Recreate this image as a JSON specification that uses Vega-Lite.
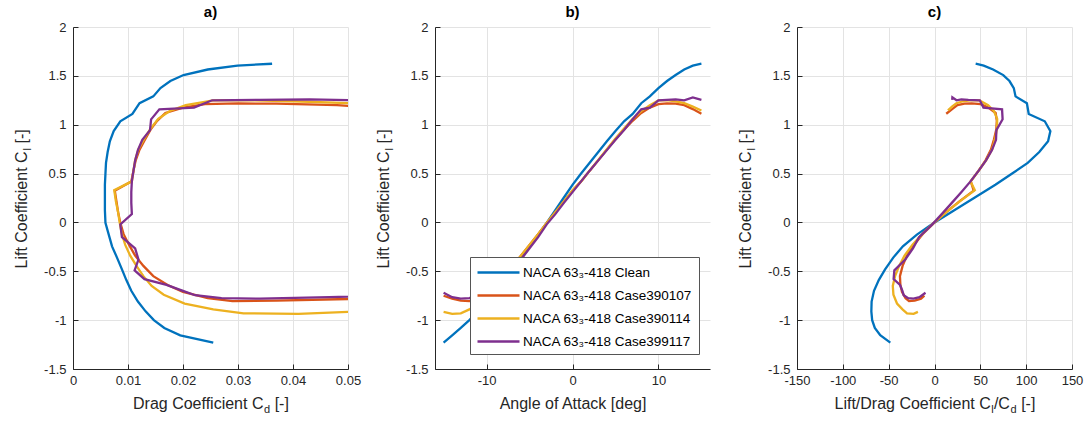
{
  "$schema": "https://vega.github.io/schema/vega-lite/v6.json",
  "background": "white",
  "padding": {"left": 13, "top": 5, "right": 5, "bottom": 5},
  "bounds": "flush",
  "config": {
    "font": "Liberation Sans",
    "view": {"stroke": null},
    "locale": {"number": {"decimal": ".", "thousands": ",", "grouping": [3], "currency": ["$", ""], "minus": "-"}},
    "axis": {
      "domainColor": "#262626", "domainWidth": 1, "tickColor": "#262626", "tickSize": -5,
      "labelFontSize": 13, "labelColor": "#262626", "labelFont": "Liberation Sans",
      "titleColor": "#262626", "titleFont": "Liberation Sans", "titleFontSize": 16, "titleFontWeight": "normal",
      "titleAlign": "left", "titleBaseline": "alphabetic",
      "gridColor": "#e3e3e3", "gridWidth": 1, "labelFlush": false, "labelOverlap": false
    },
    "axisX": {"labelPadding": 10},
    "axisY": {"labelPadding": 12},
    "title": {"fontSize": 15, "fontWeight": "bold", "color": "#000000", "offset": 0, "dy": 3, "font": "Liberation Sans"}
  },
  "datasets": {
    "polar": [
      {"c": "NACA 63₃-418 Clean", "a": -15, "cl": -1.23, "cd": 0.0255, "ld": -48.2},
      {"c": "NACA 63₃-418 Clean", "a": -14, "cl": -1.155, "cd": 0.0195, "ld": -59.2},
      {"c": "NACA 63₃-418 Clean", "a": -13, "cl": -1.08, "cd": 0.0166, "ld": -65.1},
      {"c": "NACA 63₃-418 Clean", "a": -12, "cl": -1.0, "cd": 0.0147, "ld": -68.0},
      {"c": "NACA 63₃-418 Clean", "a": -11, "cl": -0.91, "cd": 0.0132, "ld": -68.9},
      {"c": "NACA 63₃-418 Clean", "a": -10, "cl": -0.81, "cd": 0.0118, "ld": -68.6},
      {"c": "NACA 63₃-418 Clean", "a": -9, "cl": -0.7, "cd": 0.0106, "ld": -66.0},
      {"c": "NACA 63₃-418 Clean", "a": -8, "cl": -0.59, "cd": 0.0097, "ld": -60.8},
      {"c": "NACA 63₃-418 Clean", "a": -7, "cl": -0.48, "cd": 0.0089, "ld": -53.9},
      {"c": "NACA 63₃-418 Clean", "a": -6, "cl": -0.36, "cd": 0.008, "ld": -45.0},
      {"c": "NACA 63₃-418 Clean", "a": -5, "cl": -0.245, "cd": 0.0071, "ld": -34.5},
      {"c": "NACA 63₃-418 Clean", "a": -4, "cl": -0.125, "cd": 0.0065, "ld": -19.2},
      {"c": "NACA 63₃-418 Clean", "a": -3, "cl": -0.005, "cd": 0.0059, "ld": -0.8},
      {"c": "NACA 63₃-418 Clean", "a": -2, "cl": 0.125, "cd": 0.0058, "ld": 21.6},
      {"c": "NACA 63₃-418 Clean", "a": -1, "cl": 0.255, "cd": 0.0058, "ld": 44.0},
      {"c": "NACA 63₃-418 Clean", "a": 0, "cl": 0.385, "cd": 0.0058, "ld": 66.4},
      {"c": "NACA 63₃-418 Clean", "a": 1, "cl": 0.5, "cd": 0.0059, "ld": 84.7},
      {"c": "NACA 63₃-418 Clean", "a": 2, "cl": 0.61, "cd": 0.006, "ld": 101.7},
      {"c": "NACA 63₃-418 Clean", "a": 3, "cl": 0.72, "cd": 0.0063, "ld": 114.3},
      {"c": "NACA 63₃-418 Clean", "a": 4, "cl": 0.83, "cd": 0.0067, "ld": 123.9},
      {"c": "NACA 63₃-418 Clean", "a": 5, "cl": 0.935, "cd": 0.0074, "ld": 126.4},
      {"c": "NACA 63₃-418 Clean", "a": 6, "cl": 1.035, "cd": 0.0086, "ld": 120.3},
      {"c": "NACA 63₃-418 Clean", "a": 7, "cl": 1.11, "cd": 0.0108, "ld": 102.8},
      {"c": "NACA 63₃-418 Clean", "a": 8, "cl": 1.22, "cd": 0.0121, "ld": 100.8},
      {"c": "NACA 63₃-418 Clean", "a": 9, "cl": 1.29, "cd": 0.0146, "ld": 88.4},
      {"c": "NACA 63₃-418 Clean", "a": 10, "cl": 1.375, "cd": 0.0159, "ld": 86.5},
      {"c": "NACA 63₃-418 Clean", "a": 11, "cl": 1.447, "cd": 0.0177, "ld": 81.8},
      {"c": "NACA 63₃-418 Clean", "a": 12, "cl": 1.508, "cd": 0.0201, "ld": 75.0},
      {"c": "NACA 63₃-418 Clean", "a": 13, "cl": 1.565, "cd": 0.0245, "ld": 63.9},
      {"c": "NACA 63₃-418 Clean", "a": 14, "cl": 1.605, "cd": 0.0299, "ld": 53.7},
      {"c": "NACA 63₃-418 Clean", "a": 15, "cl": 1.624, "cd": 0.0362, "ld": 44.9},

      {"c": "NACA 63₃-418 Case390107", "a": -15, "cl": -0.75, "cd": 0.068, "ld": -11.0},
      {"c": "NACA 63₃-418 Case390107", "a": -14, "cl": -0.78, "cd": 0.053, "ld": -14.7},
      {"c": "NACA 63₃-418 Case390107", "a": -13, "cl": -0.8, "cd": 0.037, "ld": -21.6},
      {"c": "NACA 63₃-418 Case390107", "a": -12, "cl": -0.805, "cd": 0.029, "ld": -27.8},
      {"c": "NACA 63₃-418 Case390107", "a": -11, "cl": -0.775, "cd": 0.0245, "ld": -31.6},
      {"c": "NACA 63₃-418 Case390107", "a": -10, "cl": -0.71, "cd": 0.02, "ld": -35.5},
      {"c": "NACA 63₃-418 Case390107", "a": -9, "cl": -0.64, "cd": 0.0172, "ld": -37.2},
      {"c": "NACA 63₃-418 Case390107", "a": -8, "cl": -0.55, "cd": 0.0146, "ld": -37.7},
      {"c": "NACA 63₃-418 Case390107", "a": -7, "cl": -0.445, "cd": 0.0128, "ld": -34.8},
      {"c": "NACA 63₃-418 Case390107", "a": -6, "cl": -0.34, "cd": 0.0113, "ld": -30.1},
      {"c": "NACA 63₃-418 Case390107", "a": -5, "cl": -0.23, "cd": 0.0102, "ld": -22.5},
      {"c": "NACA 63₃-418 Case390107", "a": -4, "cl": -0.12, "cd": 0.0092, "ld": -13.0},
      {"c": "NACA 63₃-418 Case390107", "a": -3, "cl": -0.005, "cd": 0.0086, "ld": -0.6},
      {"c": "NACA 63₃-418 Case390107", "a": -2, "cl": 0.105, "cd": 0.0082, "ld": 12.8},
      {"c": "NACA 63₃-418 Case390107", "a": -1, "cl": 0.215, "cd": 0.0079, "ld": 27.2},
      {"c": "NACA 63₃-418 Case390107", "a": 0, "cl": 0.325, "cd": 0.0076, "ld": 42.8},
      {"c": "NACA 63₃-418 Case390107", "a": 1, "cl": 0.42, "cd": 0.0106, "ld": 39.6},
      {"c": "NACA 63₃-418 Case390107", "a": 2, "cl": 0.53, "cd": 0.011, "ld": 48.2},
      {"c": "NACA 63₃-418 Case390107", "a": 3, "cl": 0.635, "cd": 0.0114, "ld": 55.7},
      {"c": "NACA 63₃-418 Case390107", "a": 4, "cl": 0.745, "cd": 0.0121, "ld": 61.6},
      {"c": "NACA 63₃-418 Case390107", "a": 5, "cl": 0.85, "cd": 0.0131, "ld": 64.9},
      {"c": "NACA 63₃-418 Case390107", "a": 6, "cl": 0.95, "cd": 0.0141, "ld": 67.4},
      {"c": "NACA 63₃-418 Case390107", "a": 7, "cl": 1.04, "cd": 0.0153, "ld": 68.0},
      {"c": "NACA 63₃-418 Case390107", "a": 8, "cl": 1.12, "cd": 0.0168, "ld": 66.7},
      {"c": "NACA 63₃-418 Case390107", "a": 9, "cl": 1.175, "cd": 0.02, "ld": 58.8},
      {"c": "NACA 63₃-418 Case390107", "a": 10, "cl": 1.21, "cd": 0.024, "ld": 50.4},
      {"c": "NACA 63₃-418 Case390107", "a": 11, "cl": 1.218, "cd": 0.03, "ld": 40.6},
      {"c": "NACA 63₃-418 Case390107", "a": 12, "cl": 1.215, "cd": 0.037, "ld": 32.8},
      {"c": "NACA 63₃-418 Case390107", "a": 13, "cl": 1.2, "cd": 0.048, "ld": 25.0},
      {"c": "NACA 63₃-418 Case390107", "a": 14, "cl": 1.16, "cd": 0.06, "ld": 19.3},
      {"c": "NACA 63₃-418 Case390107", "a": 15, "cl": 1.112, "cd": 0.087, "ld": 12.8},

      {"c": "NACA 63₃-418 Case390114", "a": -15, "cl": -0.915, "cd": 0.0505, "ld": -18.1},
      {"c": "NACA 63₃-418 Case390114", "a": -14, "cl": -0.935, "cd": 0.041, "ld": -22.8},
      {"c": "NACA 63₃-418 Case390114", "a": -13, "cl": -0.93, "cd": 0.031, "ld": -30.0},
      {"c": "NACA 63₃-418 Case390114", "a": -12, "cl": -0.89, "cd": 0.0255, "ld": -34.9},
      {"c": "NACA 63₃-418 Case390114", "a": -11, "cl": -0.83, "cd": 0.0203, "ld": -40.9},
      {"c": "NACA 63₃-418 Case390114", "a": -10, "cl": -0.74, "cd": 0.0165, "ld": -44.8},
      {"c": "NACA 63₃-418 Case390114", "a": -9, "cl": -0.65, "cd": 0.0143, "ld": -45.5},
      {"c": "NACA 63₃-418 Case390114", "a": -8, "cl": -0.55, "cd": 0.0128, "ld": -43.0},
      {"c": "NACA 63₃-418 Case390114", "a": -7, "cl": -0.45, "cd": 0.0116, "ld": -38.8},
      {"c": "NACA 63₃-418 Case390114", "a": -6, "cl": -0.34, "cd": 0.0104, "ld": -32.7},
      {"c": "NACA 63₃-418 Case390114", "a": -5, "cl": -0.23, "cd": 0.0095, "ld": -24.2},
      {"c": "NACA 63₃-418 Case390114", "a": -4, "cl": -0.12, "cd": 0.0089, "ld": -13.5},
      {"c": "NACA 63₃-418 Case390114", "a": -3, "cl": -0.005, "cd": 0.0085, "ld": -0.6},
      {"c": "NACA 63₃-418 Case390114", "a": -2, "cl": 0.105, "cd": 0.0082, "ld": 12.8},
      {"c": "NACA 63₃-418 Case390114", "a": -1, "cl": 0.215, "cd": 0.0078, "ld": 27.6},
      {"c": "NACA 63₃-418 Case390114", "a": 0, "cl": 0.33, "cd": 0.0075, "ld": 44.0},
      {"c": "NACA 63₃-418 Case390114", "a": 1, "cl": 0.42, "cd": 0.0107, "ld": 39.3},
      {"c": "NACA 63₃-418 Case390114", "a": 2, "cl": 0.53, "cd": 0.011, "ld": 48.2},
      {"c": "NACA 63₃-418 Case390114", "a": 3, "cl": 0.64, "cd": 0.0113, "ld": 56.6},
      {"c": "NACA 63₃-418 Case390114", "a": 4, "cl": 0.75, "cd": 0.0119, "ld": 63.0},
      {"c": "NACA 63₃-418 Case390114", "a": 5, "cl": 0.86, "cd": 0.013, "ld": 66.2},
      {"c": "NACA 63₃-418 Case390114", "a": 6, "cl": 0.96, "cd": 0.0141, "ld": 68.1},
      {"c": "NACA 63₃-418 Case390114", "a": 7, "cl": 1.06, "cd": 0.0155, "ld": 68.4},
      {"c": "NACA 63₃-418 Case390114", "a": 8, "cl": 1.14, "cd": 0.0176, "ld": 64.8},
      {"c": "NACA 63₃-418 Case390114", "a": 9, "cl": 1.2, "cd": 0.0205, "ld": 58.5},
      {"c": "NACA 63₃-418 Case390114", "a": 10, "cl": 1.25, "cd": 0.0255, "ld": 49.0},
      {"c": "NACA 63₃-418 Case390114", "a": 11, "cl": 1.252, "cd": 0.031, "ld": 40.4},
      {"c": "NACA 63₃-418 Case390114", "a": 12, "cl": 1.24, "cd": 0.04, "ld": 31.0},
      {"c": "NACA 63₃-418 Case390114", "a": 13, "cl": 1.22, "cd": 0.051, "ld": 23.9},
      {"c": "NACA 63₃-418 Case390114", "a": 14, "cl": 1.185, "cd": 0.062, "ld": 19.1},
      {"c": "NACA 63₃-418 Case390114", "a": 15, "cl": 1.146, "cd": 0.078, "ld": 14.7},

      {"c": "NACA 63₃-418 Case399117", "a": -15, "cl": -0.72, "cd": 0.0735, "ld": -9.8},
      {"c": "NACA 63₃-418 Case399117", "a": -14, "cl": -0.765, "cd": 0.0466, "ld": -16.4},
      {"c": "NACA 63₃-418 Case399117", "a": -13, "cl": -0.78, "cd": 0.034, "ld": -22.9},
      {"c": "NACA 63₃-418 Case399117", "a": -12, "cl": -0.775, "cd": 0.027, "ld": -28.7},
      {"c": "NACA 63₃-418 Case399117", "a": -11, "cl": -0.745, "cd": 0.0222, "ld": -33.6},
      {"c": "NACA 63₃-418 Case399117", "a": -10, "cl": -0.7, "cd": 0.02, "ld": -35.0},
      {"c": "NACA 63₃-418 Case399117", "a": -9, "cl": -0.64, "cd": 0.017, "ld": -37.6},
      {"c": "NACA 63₃-418 Case399117", "a": -8, "cl": -0.58, "cd": 0.013, "ld": -44.6},
      {"c": "NACA 63₃-418 Case399117", "a": -7, "cl": -0.49, "cd": 0.0112, "ld": -43.8},
      {"c": "NACA 63₃-418 Case399117", "a": -6, "cl": -0.38, "cd": 0.0119, "ld": -31.9},
      {"c": "NACA 63₃-418 Case399117", "a": -5, "cl": -0.265, "cd": 0.0113, "ld": -23.5},
      {"c": "NACA 63₃-418 Case399117", "a": -4, "cl": -0.15, "cd": 0.0089, "ld": -16.9},
      {"c": "NACA 63₃-418 Case399117", "a": -3, "cl": -0.02, "cd": 0.0086, "ld": -2.3},
      {"c": "NACA 63₃-418 Case399117", "a": -2, "cl": 0.085, "cd": 0.0107, "ld": 7.9},
      {"c": "NACA 63₃-418 Case399117", "a": -1, "cl": 0.2, "cd": 0.0106, "ld": 18.9},
      {"c": "NACA 63₃-418 Case399117", "a": 0, "cl": 0.31, "cd": 0.0106, "ld": 29.2},
      {"c": "NACA 63₃-418 Case399117", "a": 1, "cl": 0.42, "cd": 0.0107, "ld": 39.3},
      {"c": "NACA 63₃-418 Case399117", "a": 2, "cl": 0.53, "cd": 0.011, "ld": 48.2},
      {"c": "NACA 63₃-418 Case399117", "a": 3, "cl": 0.635, "cd": 0.0113, "ld": 56.2},
      {"c": "NACA 63₃-418 Case399117", "a": 4, "cl": 0.74, "cd": 0.0118, "ld": 62.7},
      {"c": "NACA 63₃-418 Case399117", "a": 5, "cl": 0.845, "cd": 0.0126, "ld": 67.1},
      {"c": "NACA 63₃-418 Case399117", "a": 6, "cl": 0.945, "cd": 0.014, "ld": 67.5},
      {"c": "NACA 63₃-418 Case399117", "a": 7, "cl": 1.055, "cd": 0.0142, "ld": 74.3},
      {"c": "NACA 63₃-418 Case399117", "a": 8, "cl": 1.157, "cd": 0.0157, "ld": 73.7},
      {"c": "NACA 63₃-418 Case399117", "a": 9, "cl": 1.175, "cd": 0.022, "ld": 53.4},
      {"c": "NACA 63₃-418 Case399117", "a": 10, "cl": 1.25, "cd": 0.0253, "ld": 49.4},
      {"c": "NACA 63₃-418 Case399117", "a": 11, "cl": 1.255, "cd": 0.034, "ld": 36.9},
      {"c": "NACA 63₃-418 Case399117", "a": 12, "cl": 1.26, "cd": 0.043, "ld": 29.3},
      {"c": "NACA 63₃-418 Case399117", "a": 13, "cl": 1.25, "cd": 0.052, "ld": 24.0},
      {"c": "NACA 63₃-418 Case399117", "a": 14, "cl": 1.28, "cd": 0.0656, "ld": 19.5},
      {"c": "NACA 63₃-418 Case399117", "a": 15, "cl": 1.255, "cd": 0.065, "ld": 19.3}
    ]
  },
  "spacing": 87,
  "resolve": {"scale": {"color": "shared"}, "legend": {"color": "independent"}},
  "hconcat": [
    {
      "title": "a)",
      "width": 275, "height": 342,
      "data": {"name": "polar"},
      "resolve": {"scale": {"x": "independent", "y": "independent"}, "axis": {"x": "independent", "y": "independent"}},
      "layer": [
        {
          "mark": {"type": "line", "strokeWidth": 2.3, "clip": true},
          "encoding": {
            "x": {"field": "cd", "type": "quantitative", "scale": {"domain": [0, 0.05]},
                  "axis": {"orient": "bottom", "values": [0, 0.01, 0.02, 0.03, 0.04, 0.05], "format": "~g", "title": "Drag Coefficient C\u2002\u2009[-]", "titleX": 59.5, "titleY": 39}},
            "y": {"field": "cl", "type": "quantitative", "scale": {"domain": [-1.5, 2]},
                  "axis": {"orient": "left", "values": [-1.5, -1, -0.5, 0, 0.5, 1, 1.5, 2], "format": "~g", "title": "Lift Coefficient C\u2002[-]", "titleX": -47, "titleY": 241}},
            "color": {"field": "c", "type": "nominal", "legend": null,
                      "scale": {"domain": ["NACA 63₃-418 Clean", "NACA 63₃-418 Case390107", "NACA 63₃-418 Case390114", "NACA 63₃-418 Case399117"], "range": ["#0072BD", "#D95319", "#EDB120", "#7E2F8E"]}},
            "order": {"field": "a", "type": "quantitative"}
          }
        },
        {
          "mark": {"type": "line", "opacity": 0, "clip": true},
          "encoding": {
            "x": {"field": "cd", "type": "quantitative", "scale": {"domain": [0, 0.05]},
                  "axis": {"orient": "bottom", "labels": false, "ticks": false, "domain": false, "grid": false, "title": "d", "titleFontSize": 11, "titleX": 190.5, "titleY": 43}},
            "y": {"field": "cl", "type": "quantitative", "scale": {"domain": [-1.5, 2]},
                  "axis": {"orient": "left", "labels": false, "ticks": false, "domain": false, "grid": false, "title": "l", "titleFontSize": 11, "titleX": -43, "titleY": 123}},
            "order": {"field": "a", "type": "quantitative"}
          }
        }
      ]
    },
    {
      "title": "b)",
      "width": 275, "height": 342,
      "data": {"name": "polar"},
      "resolve": {"scale": {"y": "independent"}, "axis": {"y": "independent"}},
      "layer": [
        {
          "mark": {"type": "line", "strokeWidth": 2.3, "clip": true},
          "encoding": {
            "x": {"field": "a", "type": "quantitative", "scale": {"domain": [-16, 16]},
                  "axis": {"orient": "bottom", "values": [-10, 0, 10], "format": "d", "title": "Angle of Attack [deg]", "titleAlign": "center", "titleX": 137.5, "titleY": 39}},
            "y": {"field": "cl", "type": "quantitative", "scale": {"domain": [-1.5, 2]},
                  "axis": {"orient": "left", "values": [-1.5, -1, -0.5, 0, 0.5, 1, 1.5, 2], "format": "~g", "title": "Lift Coefficient C\u2002[-]", "titleX": -47, "titleY": 241}},
            "color": {"field": "c", "type": "nominal",
                      "scale": {"domain": ["NACA 63₃-418 Clean", "NACA 63₃-418 Case390107", "NACA 63₃-418 Case390114", "NACA 63₃-418 Case399117"], "range": ["#0072BD", "#D95319", "#EDB120", "#7E2F8E"]},
                      "legend": {"orient": "none", "legendX": 35, "legendY": 230, "title": null, "symbolType": "M-1,0H4.25", "symbolSize": 256, "symbolStrokeWidth": 2.5, "labelFontSize": 13.5, "labelLimit": 0, "labelColor": "#000000", "labelFont": "Liberation Sans", "strokeColor": "#555555", "fillColor": "#ffffff", "padding": 6, "rowPadding": 7, "labelOffset": 28}}
          }
        },
        {
          "mark": {"type": "line", "opacity": 0, "clip": true},
          "encoding": {
            "x": {"field": "a", "type": "quantitative", "scale": {"domain": [-16, 16]}},
            "y": {"field": "cl", "type": "quantitative", "scale": {"domain": [-1.5, 2]},
                  "axis": {"orient": "left", "labels": false, "ticks": false, "domain": false, "grid": false, "title": "l", "titleFontSize": 11, "titleX": -43, "titleY": 123}}
          }
        }
      ]
    },
    {
      "title": "c)",
      "width": 275, "height": 342,
      "data": {"name": "polar"},
      "resolve": {"scale": {"x": "independent", "y": "independent"}, "axis": {"x": "independent", "y": "independent"}},
      "layer": [
        {
          "mark": {"type": "line", "strokeWidth": 2.3, "clip": true},
          "encoding": {
            "x": {"field": "ld", "type": "quantitative", "scale": {"domain": [-150, 150]},
                  "axis": {"orient": "bottom", "values": [-150, -100, -50, 0, 50, 100, 150], "format": "d", "title": "Lift/Drag Coefficient C\u2009/C\u2002\u2009[-]", "titleX": 37, "titleY": 39}},
            "y": {"field": "cl", "type": "quantitative", "scale": {"domain": [-1.5, 2]},
                  "axis": {"orient": "left", "values": [-1.5, -1, -0.5, 0, 0.5, 1, 1.5, 2], "format": "~g", "title": "Lift Coefficient C\u2002[-]", "titleX": -47, "titleY": 241}},
            "color": {"field": "c", "type": "nominal", "legend": null,
                      "scale": {"domain": ["NACA 63₃-418 Clean", "NACA 63₃-418 Case390107", "NACA 63₃-418 Case390114", "NACA 63₃-418 Case399117"], "range": ["#0072BD", "#D95319", "#EDB120", "#7E2F8E"]}},
            "order": {"field": "a", "type": "quantitative"}
          }
        },
        {
          "mark": {"type": "line", "opacity": 0, "clip": true},
          "encoding": {
            "x": {"field": "ld", "type": "quantitative", "scale": {"domain": [-150, 150]},
                  "axis": {"orient": "bottom", "labels": false, "ticks": false, "domain": false, "grid": false, "title": "l", "titleFontSize": 11, "titleX": 193.8, "titleY": 43}},
            "y": {"field": "cl", "type": "quantitative", "scale": {"domain": [-1.5, 2]},
                  "axis": {"orient": "left", "labels": false, "ticks": false, "domain": false, "grid": false, "title": "l", "titleFontSize": 11, "titleX": -43, "titleY": 123}},
            "order": {"field": "a", "type": "quantitative"}
          }
        },
        {
          "mark": {"type": "line", "opacity": 0, "clip": true},
          "encoding": {
            "x": {"field": "ld", "type": "quantitative", "scale": {"domain": [-150, 150]},
                  "axis": {"orient": "bottom", "labels": false, "ticks": false, "domain": false, "grid": false, "title": "d", "titleFontSize": 11, "titleX": 213, "titleY": 43}},
            "y": {"field": "cl", "type": "quantitative", "scale": {"domain": [-1.5, 2]}, "axis": null},
            "order": {"field": "a", "type": "quantitative"}
          }
        }
      ]
    }
  ]
}
